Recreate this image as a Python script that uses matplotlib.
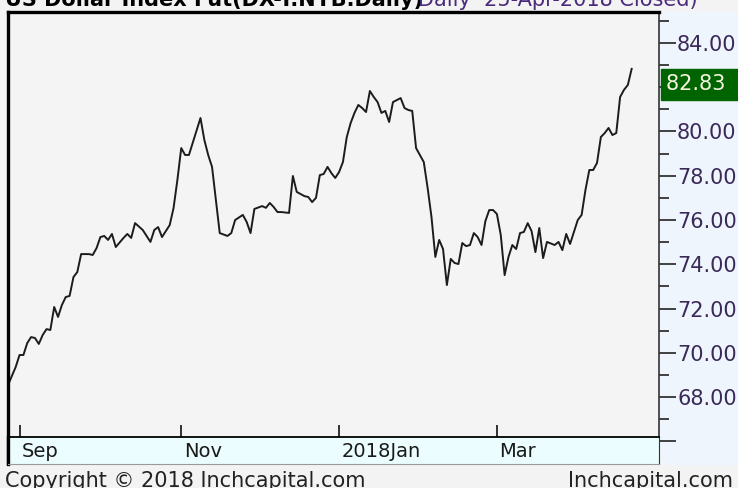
import matplotlib
matplotlib.use('Agg')
import matplotlib.pyplot as plt
import matplotlib.transforms as mtransforms
from matplotlib.patches import Rectangle
from matplotlib.ticker import FixedLocator, FixedFormatter

# daily close, x = trading-day index from the first bar
day = [0, 2, 3, 4, 5, 6, 7, 8, 9, 10, 11, 12, 13, 14, 15, 16, 17, 18, 19, 21,
       22, 23, 24, 25, 26, 27, 28, 30, 31, 32, 33, 35, 37, 38, 39, 40, 42, 43, 44, 45,
       46, 47, 50, 51, 52, 53, 54, 55, 57, 58, 59, 61, 62, 63, 64, 66, 67, 68, 69, 70,
       71, 73, 74, 75, 77, 78, 79, 80, 81, 82, 83, 84, 85, 86, 87, 88, 89, 90, 91, 92,
       93, 94, 95, 96, 97, 98, 99, 100, 101, 102, 103, 104, 105, 106, 107, 108, 109, 110, 111, 112,
       113, 114, 115, 116, 117, 118, 119, 120, 121, 122, 123, 124, 125, 126, 127, 128, 129, 130, 131, 132,
       133, 134, 135, 136, 137, 138, 139, 140, 142, 143, 144, 145, 146, 147, 148, 149, 150, 151, 152, 153,
       154, 155, 156, 157, 158, 159, 160, 161, 162]
close = [68.54, 69.36, 69.90, 69.90, 70.44, 70.71, 70.67, 70.40, 70.80, 71.07, 71.03, 72.07, 71.62, 72.16, 72.52, 72.57, 73.42, 73.65, 74.46, 74.46,
         74.42, 74.73, 75.23, 75.28, 75.10, 75.37, 74.78, 75.19, 75.37, 75.19, 75.86, 75.55, 75.01, 75.55, 75.68, 75.23, 75.77, 76.54, 77.81, 79.25,
         78.94, 78.94, 80.61, 79.62, 78.94, 78.40, 76.90, 75.41, 75.28, 75.41, 76.00, 76.23, 75.91, 75.41, 76.50, 76.63, 76.55, 76.77, 76.59, 76.36,
         76.36, 76.32, 77.99, 77.27, 77.08, 77.04, 76.81, 77.00, 78.03, 78.08, 78.40, 78.12, 77.90, 78.17, 78.62, 79.75, 80.38, 80.84, 81.20, 81.06,
         80.88, 81.83, 81.56, 81.33, 80.84, 80.93, 80.43, 81.33, 81.42, 81.51, 81.06, 80.97, 80.93, 79.25, 78.94, 78.62, 77.45, 76.14, 74.33, 75.10,
         74.69, 73.06, 74.24, 74.06, 74.01, 74.96, 74.82, 74.87, 75.41, 75.23, 74.87, 75.95, 76.45, 76.45, 76.27, 75.32, 73.51, 74.33, 74.87, 74.69,
         75.41, 75.46, 75.86, 75.50, 74.55, 75.64, 74.28, 75.01, 74.87, 75.01, 74.64, 75.37, 74.92, 75.46, 76.00, 76.23, 77.36, 78.26, 78.26, 78.58,
         79.75, 79.93, 80.16, 79.84, 79.93, 81.56, 81.88, 82.10, 82.83]

month_pos = [3, 45, 86, 127]
month_labels = ['Sep', 'Nov', '2018Jan', 'Mar']

y_major = [66, 68, 70, 72, 74, 76, 78, 80, 82, 84]
# 82.00 sits behind the last-price box, 66 has no room for a label
y_labels = ['', '68.00', '70.00', '72.00', '74.00', '76.00', '78.00', '80.00', '', '84.00']
y_minor = [65, 67, 69, 71, 73, 75, 77, 79, 81, 83, 85]

W, H = 738, 488


def rect(l, t, r, b):
    # pixel box (from top-left) -> figure fraction
    return [l / W, (H - b) / H, (r - l) / W, (b - t) / H]


fig = plt.figure(figsize=(W / 100, H / 100), dpi=100, facecolor='#f3f3f3')

# light blue price-scale panel on the right
fig.patches.append(Rectangle((660 / W, (H - 465) / H), (W - 660) / W, 453 / H,
                             transform=fig.transFigure, facecolor='#eef5fc',
                             edgecolor='none', zorder=-1))

ax = fig.add_axes(rect(8, 12, 659, 463))
ax.set_facecolor('#f4f4f4')
ax.plot(day, close, color='#1c1c1c', linewidth=1.4)
ax.set_xlim(0, 169.1)
ax.set_ylim(65.02, 85.40)

ax.yaxis.tick_right()
ax.yaxis.set_major_locator(FixedLocator(y_major))
ax.yaxis.set_major_formatter(FixedFormatter(y_labels))
ax.yaxis.set_minor_locator(FixedLocator(y_minor))
ax.tick_params(axis='y', which='major', direction='out', length=12, width=1.3,
               color='#333333', pad=1, labelsize=15, labelcolor='#3b2a58')
ax.tick_params(axis='y', which='minor', direction='out', length=7, width=1.3,
               color='#333333')
ax.set_xticks([])
for s in ['left', 'top']:
    ax.spines[s].set_linewidth(2.4)
    ax.spines[s].set_color('black')
ax.spines['right'].set_linewidth(1.2)
ax.spines['right'].set_color('#333333')
ax.spines['bottom'].set_visible(False)

# last price box, its top edge on the last close
tr = mtransforms.blended_transform_factory(ax.transAxes, ax.transData)
ax.annotate('%.2f  ' % close[-1], xy=(1.0, close[-1]), xycoords=tr,
            xytext=(5, -4), textcoords='offset points', ha='left', va='top',
            fontsize=15, color='#f4f4e0', annotation_clip=False,
            bbox=dict(boxstyle='square,pad=0.26', facecolor='#006400', edgecolor='#006400'))

# date band
axb = fig.add_axes(rect(8, 437, 659, 464))
axb.set_facecolor('#ebfdfe')
axb.set_xlim(ax.get_xlim())
axb.set_yticks([])
axb.xaxis.set_ticks_position('top')
axb.set_xticks(month_pos)
axb.tick_params(axis='x', direction='out', length=9, width=1.3, color='#222222',
                labeltop=False, labelbottom=False)
axb.spines['top'].set_linewidth(1.3)
axb.spines['left'].set_linewidth(2.4)
axb.spines['left'].set_color('black')
axb.spines['right'].set_color('#333333')
axb.spines['bottom'].set_color('#999999')
trb = mtransforms.blended_transform_factory(axb.transData, axb.transAxes)
for p, lab in zip(month_pos, month_labels):
    axb.text(p + 0.7, 0.45, lab, transform=trb, ha='left', va='center',
             fontsize=14, color='#1a1a1a')

# title and footer, both cut by the picture edge as in the original
fig.text(5 / W, (H - 6) / H, 'US Dollar Index Fut(DX-Y.NYB.Daily)', fontsize=15,
         fontweight='bold', color='black', va='baseline')
fig.text(418 / W, (H - 6) / H, 'Daily  25-Apr-2018 Closed)', fontsize=15,
         color='#4a2a7a', va='baseline')
fig.text(5 / W, (H - 487) / H, 'Copyright \u00a9 2018 Inchcapital.com', fontsize=15,
         color='#222222', va='baseline')
fig.text(568 / W, (H - 487) / H, 'Inchcapital.com', fontsize=15,
         color='#222222', va='baseline')

fig.savefig('out.png', dpi=100, facecolor=fig.get_facecolor())
